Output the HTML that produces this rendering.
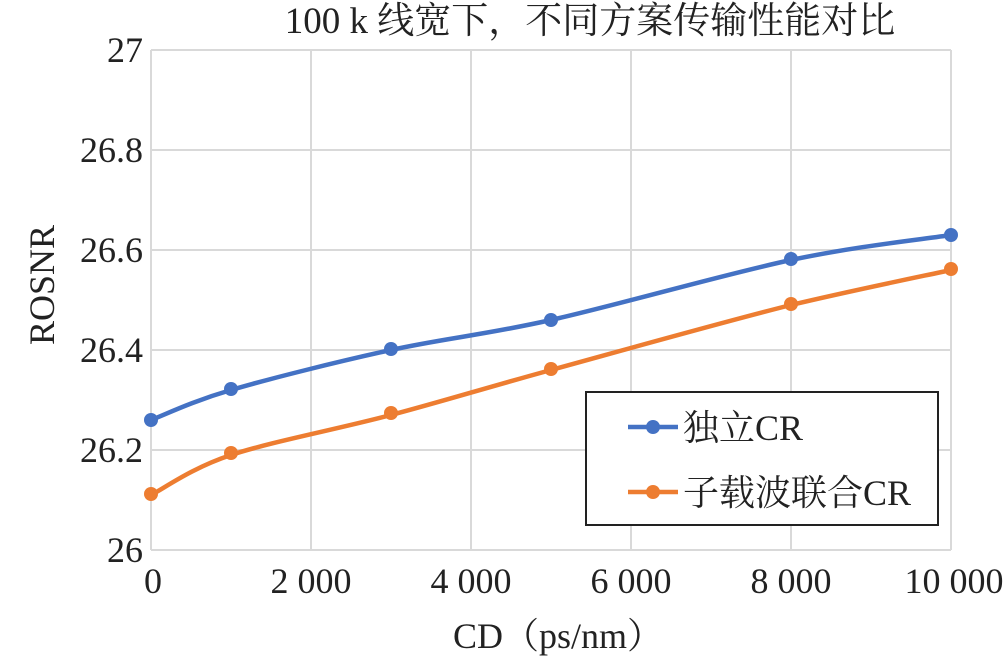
<!DOCTYPE html>
<html><head><meta charset="utf-8"><style>
html,body{margin:0;padding:0;background:#fff;}
text{font-family:"Liberation Serif","Noto Serif CJK SC",serif;fill:#222;}
</style></head><body>
<svg width="1006" height="659" viewBox="0 0 1006 659" xmlns="http://www.w3.org/2000/svg">
<g stroke="#d9d9d9" stroke-width="2" fill="none">
<line x1="151" y1="50" x2="951" y2="50"/><line x1="151" y1="150" x2="951" y2="150"/>
<line x1="151" y1="250" x2="951" y2="250"/><line x1="151" y1="350" x2="951" y2="350"/>
<line x1="151" y1="450" x2="951" y2="450"/><line x1="151" y1="550" x2="951" y2="550"/>
<line x1="151" y1="50" x2="151" y2="550"/><line x1="311" y1="50" x2="311" y2="550"/>
<line x1="471" y1="50" x2="471" y2="550"/><line x1="631" y1="50" x2="631" y2="550"/>
<line x1="791" y1="50" x2="791" y2="550"/><line x1="951" y1="50" x2="951" y2="550"/>
</g>
<text x="590" y="33" font-size="37" text-anchor="middle">100 k 线宽下，不同方案传输性能对比</text>
<g font-size="36" text-anchor="end">
<text x="143" y="62">27</text><text x="143" y="162">26.8</text><text x="143" y="262">26.6</text>
<text x="143" y="362">26.4</text><text x="143" y="462">26.2</text><text x="143" y="562">26</text>
</g>
<g font-size="36" text-anchor="middle">
<text x="153" y="593">0</text><text x="311" y="593">2 000</text><text x="471" y="593">4 000</text>
<text x="631" y="593">6 000</text><text x="791" y="593">8 000</text><text x="954" y="593">10 000</text>
</g>
<text x="558" y="648" font-size="36" text-anchor="middle">CD（ps/nm）</text>
<text transform="translate(54,285) rotate(-90)" font-size="36" text-anchor="middle">ROSNR</text>
<path d="M151,420 C164.3,415 191,401.7 231,390 C271,378.3 337.7,361.7 391,350 C444.3,338.3 484.3,335 551,320 C617.7,305 724.3,274.2 791,260 C857.7,245.8 924.3,239.2 951,235" stroke="#4472C4" stroke-width="4.5" fill="none"/>
<path d="M151,495 C164.3,488.3 191,468.3 231,455 C271,441.7 337.7,429.2 391,415 C444.3,400.8 484.3,388.3 551,370 C617.7,351.7 724.3,321.7 791,305 C857.7,289.2 924.3,275.8 951,270" stroke="#ED7D31" stroke-width="4.5" fill="none"/>
<g fill="#4472C4"><circle cx="151" cy="420" r="7"/><circle cx="231" cy="389" r="7"/><circle cx="391" cy="349" r="7"/><circle cx="551" cy="320" r="7"/><circle cx="791" cy="259" r="7"/><circle cx="951" cy="235" r="7"/></g>
<g fill="#ED7D31"><circle cx="151" cy="494" r="7"/><circle cx="231" cy="453" r="7"/><circle cx="391" cy="413" r="7"/><circle cx="551" cy="369" r="7"/><circle cx="791" cy="304" r="7"/><circle cx="951" cy="269" r="7"/></g>
<rect x="586" y="392" width="352" height="133" fill="#fff" stroke="#222" stroke-width="2"/>
<line x1="628" y1="427" x2="678" y2="427" stroke="#4472C4" stroke-width="4.5"/><circle cx="653" cy="427" r="7" fill="#4472C4"/>
<text x="683" y="440" font-size="36">独立CR</text>
<line x1="628" y1="492" x2="678" y2="492" stroke="#ED7D31" stroke-width="4.5"/><circle cx="653" cy="492" r="7" fill="#ED7D31"/>
<text x="683" y="505" font-size="36">子载波联合CR</text>
</svg>
</body></html>
